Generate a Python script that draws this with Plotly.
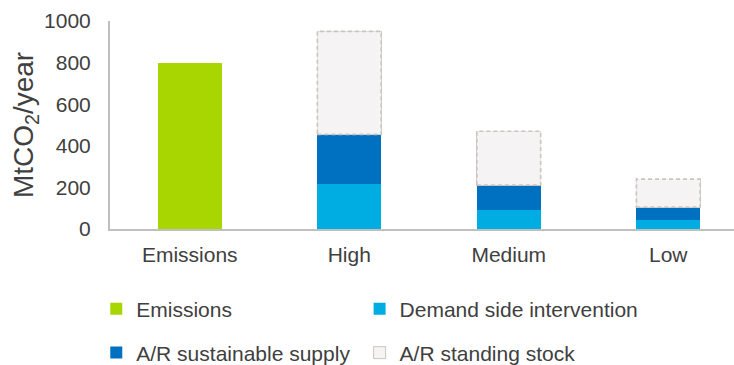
import plotly.graph_objects as go

# Mitigation potential by scenario (MtCO2/year)
categories = ["Emissions", "High", "Medium", "Low"]
emissions = [800, None, None, None]
demand_side = [None, 217, 92, 43]
ar_supply = [None, 238, 119, 62]
ar_standing = [None, 495, 259, 135]

y_ticks = [0, 200, 400, 600, 800, 1000]

GREEN = "#A8D600"
LIGHT_BLUE = "#00ADE2"
DARK_BLUE = "#0070C0"
STOCK_FILL = "#F5F3F4"
STOCK_LINE = "#C9C5C0"
TEXT = "#404040"
FONT = "Liberation Sans, Arial, sans-serif"
BAR_W = 0.4

x_idx = list(range(len(categories)))

fig = go.Figure()
fig.add_trace(go.Bar(x=x_idx, y=emissions, name="Emissions", width=BAR_W,
                     marker=dict(color=GREEN, line=dict(width=0)), legend="legend"))
fig.add_trace(go.Bar(x=x_idx, y=demand_side, name="Demand side intervention", width=BAR_W,
                     marker=dict(color=LIGHT_BLUE, line=dict(width=0)), legend="legend2"))
fig.add_trace(go.Bar(x=x_idx, y=ar_supply, name="A/R sustainable supply", width=BAR_W,
                     marker=dict(color=DARK_BLUE, line=dict(width=0)), legend="legend3"))
fig.add_trace(go.Bar(x=x_idx, y=ar_standing, name="A/R standing stock", width=BAR_W,
                     marker=dict(color=STOCK_FILL, line=dict(color=STOCK_LINE, width=1)),
                     legend="legend4"))

# dashed outline around the standing-stock segments
for i, (d, s, st) in enumerate(zip(demand_side, ar_supply, ar_standing)):
    if st is None:
        continue
    base = d + s
    fig.add_shape(type="rect", xref="x", yref="y",
                  x0=i - BAR_W / 2, x1=i + BAR_W / 2, y0=base, y1=base + st,
                  line=dict(color=STOCK_LINE, width=1.6, dash="4px,3px"),
                  fillcolor=STOCK_FILL, layer="above")

# one legend box per entry, laid out as a 2 x 2 grid under the plot
legend_style = dict(orientation="h", xanchor="left", yanchor="middle",
                    itemwidth=30, font=dict(size=21, color=TEXT),
                    bgcolor="rgba(0,0,0,0)",
                    itemclick=False, itemdoubleclick=False)
col_x = [-0.022, 0.4]
row_y = [-0.385, -0.596]

fig.update_layout(
    barmode="stack",
    width=734, height=365,
    margin=dict(l=110, r=0, t=21, b=136, autoexpand=False),
    paper_bgcolor="white", plot_bgcolor="white",
    font=dict(family=FONT, size=21, color=TEXT),
    legend=dict(legend_style, x=col_x[0], y=row_y[0]),
    legend2=dict(legend_style, x=col_x[1], y=row_y[0]),
    legend3=dict(legend_style, x=col_x[0], y=row_y[1]),
    legend4=dict(legend_style, x=col_x[1], y=row_y[1]),
    showlegend=True,
)

fig.update_xaxes(
    tickmode="array", tickvals=x_idx, ticktext=categories,
    range=[-0.5, 3.412], showgrid=False, zeroline=False,
    showline=True, linecolor="#BFBFBF", linewidth=2,
    ticks="", ticklabelstandoff=6,
    tickfont=dict(size=21, color=TEXT),
)
fig.update_yaxes(
    range=[0, 1000], tickmode="array", tickvals=y_ticks,
    showgrid=False, zeroline=False,
    showline=True, linecolor="#BFBFBF", linewidth=2,
    ticks="", ticklabelstandoff=13,
    tickfont=dict(size=21, color=TEXT),
    title=dict(text="MtCO<sub>2</sub>/year", font=dict(size=28, color=TEXT), standoff=2),
)

fig.write_html("out.html", config={"displayModeBar": False})
